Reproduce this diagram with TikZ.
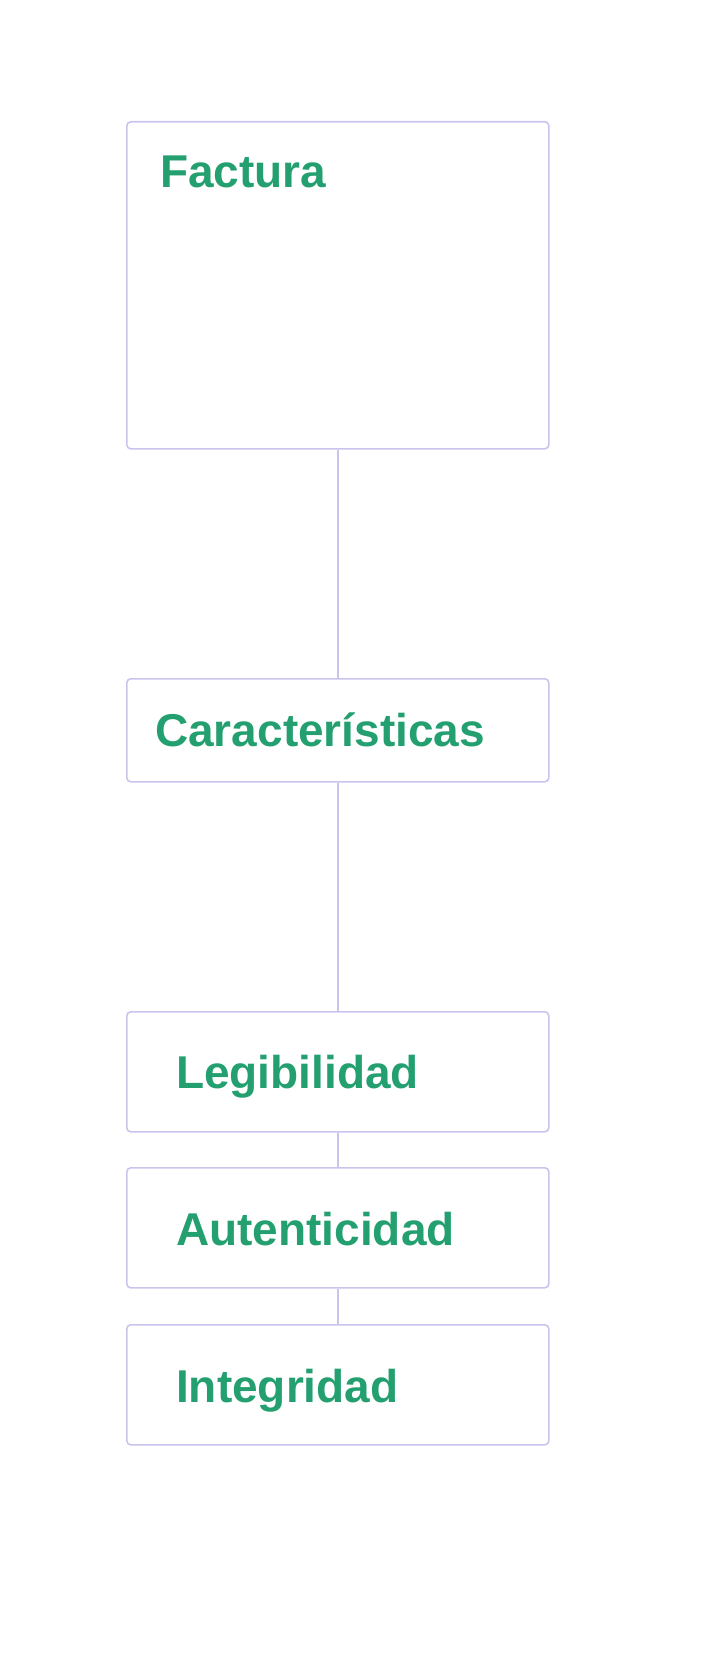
\documentclass[tikz,border=0pt]{standalone}
\usepackage{fontspec}
\setmainfont{Liberation Sans}
\usetikzlibrary{positioning}
\definecolor{verde}{HTML}{24A070}
\definecolor{lila}{HTML}{CBC3EC}
\tikzset{
  caja/.style={draw=lila, line width=1.6pt, rounded corners=4pt, anchor=north west,
    minimum width=422pt, inner sep=0pt},
  texto/.style={anchor=base west, text=verde, font=\fontsize{46}{50}\selectfont\bfseries, inner sep=0pt},
  linea/.style={draw=lila, line width=1.6pt}
}

\begin{document}
\begin{tikzpicture}[x=1pt,y=-1pt]
			\useasboundingbox (0,0) rectangle (711,1653);
			\node[caja, minimum height=327pt] (factura) at (126,121) {};
			\node[caja, minimum height=103pt] (caract) at (126,678) {};
			\node[caja, minimum height=120pt] (legib) at (126,1011) {};
			\node[caja, minimum height=120pt] (autent) at (126,1167) {};
			\node[caja, minimum height=120pt] (integ) at (126,1324) {};
			
			\node[texto] (tfactura) at (160,188) {Factura};
			\node[texto] (tcaract) at (155,746) {Características};
			\node[texto] (tlegib) at (176,1088) {Legibilidad};
			\node[texto] (tautent) at (176,1245) {Autenticidad};
			\node[texto] (tinteg) at (176,1402) {Integridad};
			
			\draw[linea] (factura.south) -- (caract.north);
			\draw[linea] (caract.south) -- (legib.north);
			\draw[linea] (legib.south) -- (autent.north);
			\draw[linea] (autent.south) -- (integ.north);
		\end{tikzpicture}
\end{document}
